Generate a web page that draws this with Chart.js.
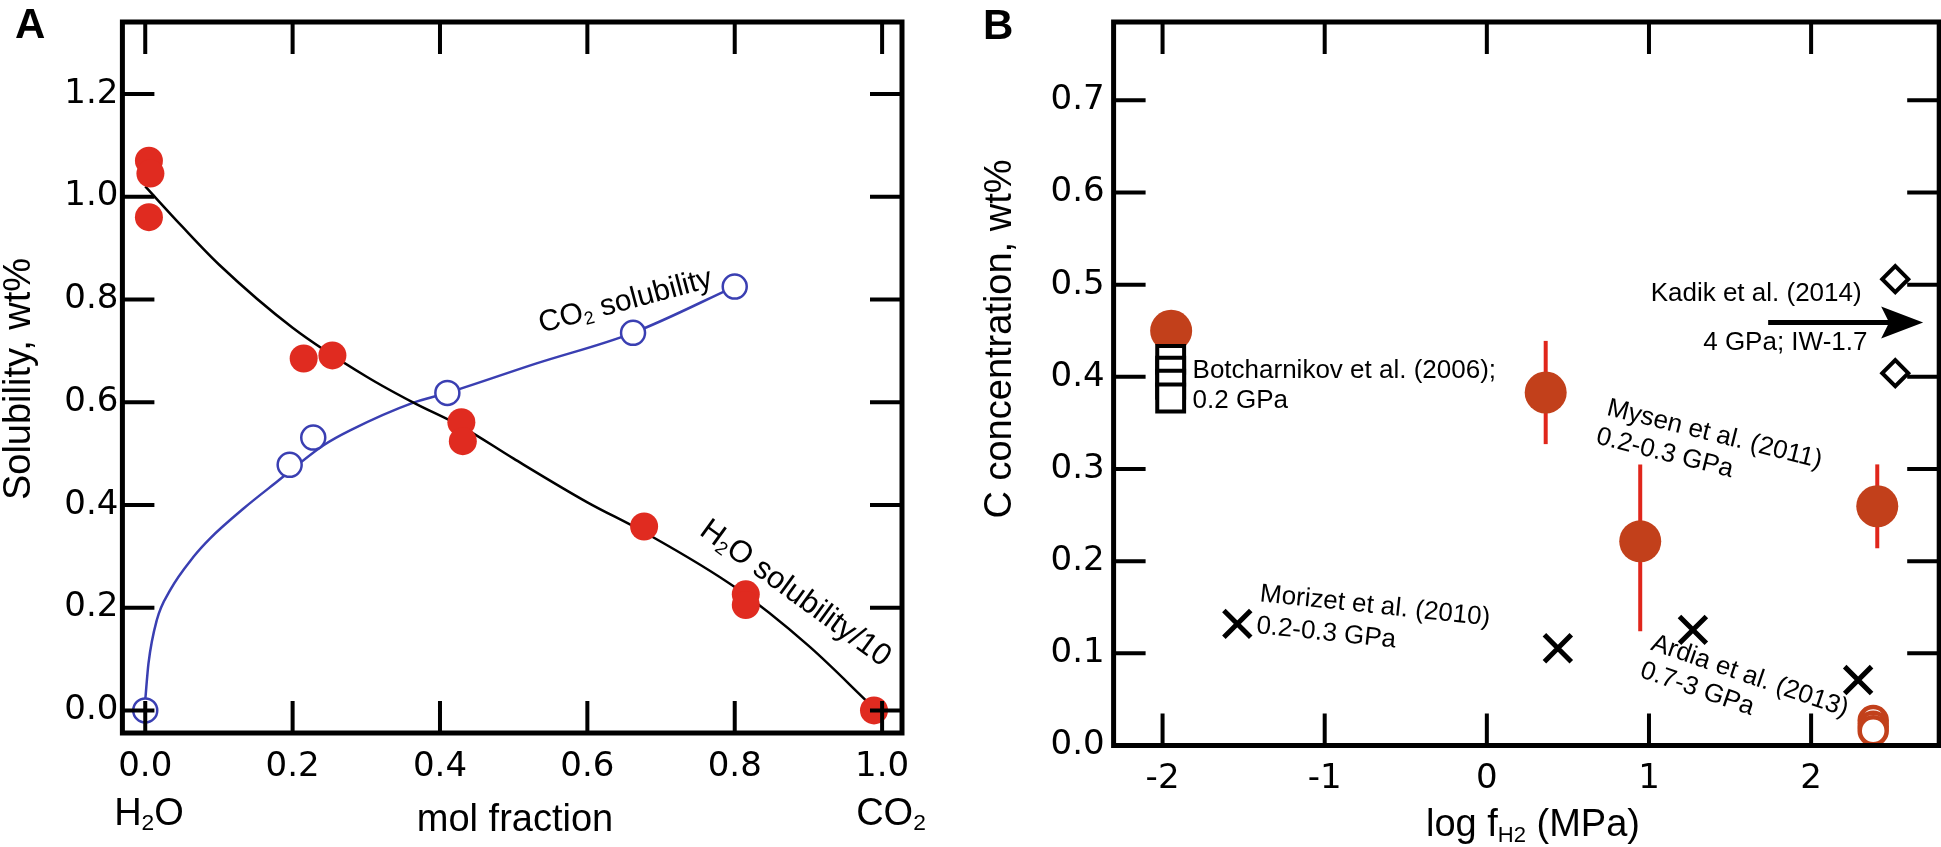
<!DOCTYPE html>
<html>
<head>
<meta charset="utf-8">
<script src="https://cdn.jsdelivr.net/npm/chart.js@4.4.0/dist/chart.umd.min.js"></script>
<style>
  html, body { margin: 0; padding: 0; background: #fff; }
  body { width: 1941px; height: 847px; position: relative; overflow: hidden; }
  canvas { position: absolute; top: 0; }
  #chartA { left: 0; }
  #chartB { left: 980px; }
</style>
</head>
<body>
<canvas id="chartA" width="960" height="847"></canvas>
<canvas id="chartB" width="961" height="847"></canvas>
<script>
// ---- panel A: solubility vs mol fraction ----
const fracTicks = [0, 0.2, 0.4, 0.6, 0.8, 1.0];
const solTicks = [0, 0.2, 0.4, 0.6, 0.8, 1.0, 1.2];

// H2O solubility / 10 (red dots)
const h2oX = [0.005, 0.007, 0.005, 0.215, 0.254, 0.429, 0.431, 0.677, 0.815, 0.815, 0.989];
const h2oY = [1.07, 1.045, 0.96, 0.685, 0.691, 0.561, 0.524, 0.358, 0.226, 0.205, 0.0];
// CO2 solubility (open blue circles)
const co2X = [0, 0.196, 0.228, 0.41, 0.662, 0.80];
const co2Y = [0, 0.478, 0.531, 0.618, 0.735, 0.825];
// fitted curves
const h2oFitX = [0, 0.05, 0.1, 0.2, 0.3, 0.364, 0.43, 0.5, 0.6, 0.677, 0.8, 0.9, 0.985];
const h2oFitY = [1.02, 0.942, 0.868, 0.745, 0.65, 0.599, 0.552, 0.49, 0.405, 0.347, 0.24, 0.126, 0.01];
const co2FitX = [0, 0.0044, 0.0157, 0.0338, 0.0655, 0.0881, 0.1334, 0.1787, 0.242, 0.278, 0.364, 0.41, 0.53, 0.662, 0.8];
const co2FitY = [0.02, 0.0916, 0.176, 0.234, 0.299, 0.335, 0.393, 0.445, 0.516, 0.545, 0.599, 0.618, 0.675, 0.735, 0.825];

// ---- panel B: C concentration vs log fH2 ----
const logTicks = [-2, -1, 0, 1, 2];
const concTicks = [0, 0.1, 0.2, 0.3, 0.4, 0.5, 0.6, 0.7];

const mysenX = [-1.947, 0.363, 0.946, 2.408];
const mysenY = [0.450, 0.383, 0.2215, 0.2596];
const mysenLow = [null, 0.327, 0.124, 0.214];
const mysenHigh = [null, 0.439, 0.305, 0.305];
const botchX = [-1.95, -1.95, -1.95, -1.95];
const botchY = [0.419, 0.406, 0.392, 0.377];
const morizetX = [-1.539, 0.438, 1.271, 2.29];
const morizetY = [0.132, 0.1055, 0.1255, 0.071];
const kadikX = [2.519, 2.519];
const kadikY = [0.506, 0.404];
const ardiaX = [2.383, 2.383, 2.383];
const ardiaY = [0.027, 0.021, 0.016];
const arrowX = [1.735, 2.691];
const arrowY = 0.459;

const SANS = "'Liberation Sans', Arial, Helvetica, sans-serif";
const pts = (xs, ys) => xs.map((x, i) => ({x: x, y: ys[i]}));

// text with optional subscript parts: parts = [[text, isSub], ...]
function richText(ctx, parts, x, y, size, opts) {
  opts = opts || {};
  const subSize = size * (opts.subScale || 0.6);
  const weight = opts.bold ? 'bold ' : '';
  const widths = parts.map(p => {
    ctx.font = weight + (p[1] ? subSize : size) + 'px ' + SANS;
    return ctx.measureText(p[0]).width;
  });
  const total = widths.reduce((s, w) => s + w, 0);
  ctx.save();
  ctx.translate(x, y);
  ctx.rotate((opts.rotate || 0) * Math.PI / 180);
  let cx = opts.align === 'left' ? 0 : opts.align === 'right' ? -total : -total / 2;
  const base = opts.mid ? size * 0.35 : 0;
  ctx.textAlign = 'left';
  ctx.textBaseline = 'alphabetic';
  ctx.fillStyle = '#000';
  parts.forEach((p, i) => {
    ctx.font = weight + (p[1] ? subSize : size) + 'px ' + SANS;
    ctx.fillText(p[0], cx, base + (p[1] ? size * (opts.subShift || 0.14) : 0));
    cx += widths[i];
  });
  ctx.restore();
}

function frameTicks(xTicks, yTicks, tickLen) {
  return {
    id: 'frameTicks',
    afterDatasetsDraw(chart) {
      const {ctx, chartArea: a, scales: {x, y}} = chart;
      ctx.save();
      ctx.strokeStyle = '#000';
      ctx.lineWidth = 4;
      ctx.beginPath();
      xTicks.forEach(v => {
        const px = x.getPixelForValue(v);
        ctx.moveTo(px, a.bottom); ctx.lineTo(px, a.bottom - tickLen);
        ctx.moveTo(px, a.top); ctx.lineTo(px, a.top + tickLen);
      });
      yTicks.forEach(v => {
        const py = y.getPixelForValue(v);
        ctx.moveTo(a.left, py); ctx.lineTo(a.left + tickLen, py);
        ctx.moveTo(a.right, py); ctx.lineTo(a.right - tickLen, py);
      });
      ctx.stroke();
      ctx.lineWidth = 5;
      ctx.strokeRect(a.left, a.top, a.right - a.left, a.bottom - a.top);
      ctx.restore();
    }
  };
}

function axisScale(min, max, ticks, fmt, pad, fit) {
  return {
    type: 'linear', min: min, max: max,
    afterBuildTicks: s => { s.ticks = ticks.map(v => ({value: v})); },
    afterFit: s => {
      fit(s);
      s.paddingLeft = 0; s.paddingRight = 0; s.paddingTop = 0; s.paddingBottom = 0;
    },
    grid: {display: false, drawTicks: false},
    border: {display: false},
    ticks: {
      font: {family: "'DejaVu Sans', sans-serif", size: 34},
      color: '#000', padding: pad, maxRotation: 0, autoSkip: false,
      callback: fmt
    }
  };
}

const baseOpts = {
  responsive: false,
  animation: false,
  events: [],
  plugins: {legend: {display: false}, tooltip: {enabled: false}}
};

// ---- chart A ----
const labelsA = {
  id: 'labelsA',
  afterDraw(chart) {
    const {ctx, scales: {x, y}} = chart;
    richText(ctx, [['CO'], ['2', true], [' solubility']], x.getPixelForValue(0.651), y.getPixelForValue(0.80), 30, {mid: true, rotate: -15});
    richText(ctx, [['H'], ['2', true], ['O solubility/10']], x.getPixelForValue(0.884), y.getPixelForValue(0.231), 31, {mid: true, rotate: 36});
    richText(ctx, [['Solubility, wt%']], 17, 379, 38, {mid: true, rotate: -90});
    richText(ctx, [['H'], ['2', true], ['O']], 149, 825, 38);
    richText(ctx, [['mol fraction']], 515, 831, 38);
    richText(ctx, [['CO'], ['2', true]], 891, 825, 38);
    richText(ctx, [['A']], 15, 38, 42, {align: 'left', bold: true});
  }
};

new Chart(document.getElementById('chartA'), {
  type: 'scatter',
  data: {
    datasets: [
      {data: pts(h2oX, h2oY), order: 0, pointStyle: 'circle', pointRadius: 14,
       backgroundColor: '#e02b20', borderWidth: 0, clip: false},
      {data: pts(co2X, co2Y), order: 1, pointStyle: 'circle', pointRadius: 12,
       backgroundColor: '#ffffff', borderColor: '#3a3fb2', borderWidth: 2.5, clip: false},
      {data: pts(h2oFitX, h2oFitY), order: 2, showLine: true, pointRadius: 0,
       borderColor: '#000000', borderWidth: 2.5, cubicInterpolationMode: 'monotone'},
      {data: pts(co2FitX, co2FitY), order: 3, showLine: true, pointRadius: 0,
       borderColor: '#3a3fb2', borderWidth: 2.5, cubicInterpolationMode: 'monotone'}
    ]
  },
  options: Object.assign({}, baseOpts, {
    layout: {autoPadding: false, padding: {left: 0, right: 58, top: 22, bottom: 0}},
    scales: {
      x: axisScale(-0.031, 1.027, fracTicks, v => v.toFixed(1), 14, s => { s.height = 847 - 733; }),
      y: axisScale(-0.044, 1.34, solTicks, v => v.toFixed(1), 4, s => { s.width = 122.4; })
    }
  }),
  plugins: [frameTicks(fracTicks, solTicks, 32), labelsA]
});

// ---- chart B ----
const extrasB = {
  id: 'extrasB',
  beforeDatasetsDraw(chart) {
    const {ctx, scales: {x, y}} = chart;
    ctx.save();
    ctx.strokeStyle = '#e0261b';
    ctx.lineWidth = 4;
    mysenX.forEach((v, i) => {
      if (mysenLow[i] === null) return;
      const px = x.getPixelForValue(v);
      ctx.beginPath();
      ctx.moveTo(px, y.getPixelForValue(mysenLow[i]));
      ctx.lineTo(px, y.getPixelForValue(mysenHigh[i]));
      ctx.stroke();
    });
    ctx.restore();
  },
  afterDraw(chart) {
    const {ctx, scales: {x, y}} = chart;
    // arrow
    const x0 = x.getPixelForValue(arrowX[0]), x1 = x.getPixelForValue(arrowX[1]);
    const py = y.getPixelForValue(arrowY);
    ctx.save();
    ctx.strokeStyle = '#000';
    ctx.fillStyle = '#000';
    ctx.lineWidth = 5;
    ctx.beginPath();
    ctx.moveTo(x0, py); ctx.lineTo(x1 - 30, py);
    ctx.stroke();
    ctx.beginPath();
    ctx.moveTo(x1, py);
    ctx.lineTo(x1 - 42, py - 16);
    ctx.lineTo(x1 - 34, py);
    ctx.lineTo(x1 - 42, py + 16);
    ctx.closePath();
    ctx.fill();
    ctx.restore();

    const t = (s, dx, dy, opts) => richText(ctx, [[s]], x.getPixelForValue(dx), y.getPixelForValue(dy), 26, Object.assign({mid: true}, opts));
    t('Kadik et al. (2014)', 1.661, 0.4917);
    t('4 GPa; IW-1.7', 1.841, 0.4388);
    t('Botcharnikov et al. (2006);', -1.815, 0.409, {align: 'left'});
    t('0.2 GPa', -1.815, 0.3756, {align: 'left'});
    t('Mysen et al. (2011)', 1.407, 0.3396, {rotate: 14});
    t('0.2-0.3 GPa', 1.10, 0.319, {rotate: 14});
    t('Morizet et al. (2010)', -0.688, 0.1533, {rotate: 6});
    t('0.2-0.3 GPa', -0.99, 0.124, {rotate: 6});
    t('Ardia et al. (2013)', 1.626, 0.0771, {rotate: 19});
    t('0.7-3 GPa', 1.301, 0.0631, {rotate: 19});

    richText(ctx, [['C concentration, wt%']], 18, 339, 38, {mid: true, rotate: -90});
    richText(ctx, [['log f'], ['H2', true], [' (MPa)']], 553, 836, 38, {subScale: 0.58, subShift: 0.15});
    richText(ctx, [['B']], 3, 39, 42, {align: 'left', bold: true});
  }
};

new Chart(document.getElementById('chartB'), {
  type: 'scatter',
  data: {
    datasets: [
      {data: pts(kadikX, kadikY), order: 0, pointStyle: 'rectRot', pointRadius: 13,
       backgroundColor: '#ffffff', borderColor: '#000000', borderWidth: 4, clip: false},
      {data: pts(botchX, botchY), order: 1, pointStyle: 'rect', pointRadius: 19,
       backgroundColor: '#ffffff', borderColor: '#000000', borderWidth: 4, clip: false},
      {data: pts(ardiaX, ardiaY), order: 2, pointStyle: 'circle', pointRadius: 13.5,
       backgroundColor: '#ffffff', borderColor: '#c2401b', borderWidth: 4.5, clip: false},
      {data: pts(morizetX, morizetY), order: 3, pointStyle: 'crossRot', pointRadius: 19,
       borderColor: '#000000', borderWidth: 5, clip: false},
      {data: pts(mysenX, mysenY), order: 4, pointStyle: 'circle', pointRadius: 21,
       backgroundColor: '#c2401b', borderWidth: 0, clip: false}
    ]
  },
  options: Object.assign({}, baseOpts, {
    layout: {autoPadding: false, padding: {left: 0, right: 1.8, top: 22, bottom: 0}},
    scales: {
      x: axisScale(-2.302, 2.79, logTicks, v => String(v), 13, s => { s.height = 847 - 745.5; }),
      y: axisScale(0, 0.785, concTicks, v => v.toFixed(1), 9, s => { s.width = 133.6; })
    }
  }),
  plugins: [frameTicks(logTicks, concTicks, 32), extrasB]
});
</script>
</body>
</html>
